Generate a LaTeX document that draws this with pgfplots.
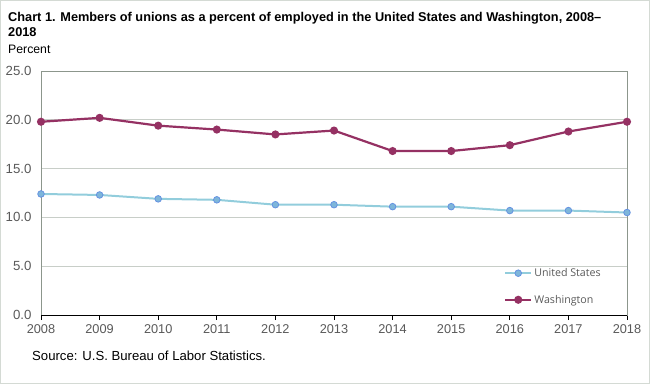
\documentclass[border=0pt]{standalone}
\usepackage{fontspec}
\setmainfont{Liberation Sans}
\newfontfamily\legfont{Open Sans}
\usepackage{pgfplots}
\pgfplotsset{compat=1.18}
\definecolor{usline}{HTML}{92CDDC}
\definecolor{usmark}{HTML}{7EB6DA}
\definecolor{wacol}{HTML}{953163}
\definecolor{gridc}{HTML}{C8CEC8}
\definecolor{axc}{HTML}{8C968C}
\definecolor{tickc}{HTML}{595959}
\definecolor{framec}{HTML}{D4DAD4}
\begin{document}
\begin{tikzpicture}[x=1bp,y=1bp]
\draw[color=framec, line width=1bp] (0.5,0.5) rectangle (649.5,383.5);
\node[anchor=base west, inner sep=0pt, font=\bfseries\fontsize{12.8}{14}\selectfont] at (8,363) {Chart 1. Members of unions as a percent of employed in the United States and Washington, 2008--};
\node[anchor=base west, inner sep=0pt, font=\bfseries\fontsize{12.8}{14}\selectfont] at (8,348) {2018};
\node[anchor=base west, inner sep=0pt, font=\fontsize{12.3}{14}\selectfont] at (8,331) {Percent};
\node[anchor=base west, inner sep=0pt, font=\fontsize{13.2}{14}\selectfont] at (32,24) {Source: U.S. Bureau of Labor Statistics.};
\begin{axis}[
  at={(41bp,69bp)}, anchor=south west,
  scale only axis, width=586bp, height=244bp,
  xmin=2008, xmax=2018, ymin=0, ymax=25,
  xtick={2008,2009,...,2018}, ytick={0,5,...,25},
  ymajorgrids, grid style={color=gridc, line width=0.8bp},
  axis line style={color=axc, line width=0.8bp},
  xtick pos=bottom, ytick style={draw=none},
  xtick style={color=black, line width=0.8bp},
  tick align=outside, major tick length=5bp,
  /pgf/number format/assume math mode=true,
  xticklabel style={/pgf/number format/1000 sep={}, color=tickc, font=\fontsize{12.8}{14}\selectfont, yshift=-1bp},
  yticklabel style={/pgf/number format/fixed, /pgf/number format/fixed zerofill, /pgf/number format/precision=1, color=tickc, font=\fontsize{13.3}{14}\selectfont, xshift=-1bp},
  legend style={at={(0.79,0.2)}, anchor=north west, draw=none, fill=none, font=\legfont\fontsize{10.7}{12}\selectfont, text=tickc, row sep=13bp, inner sep=0pt},
  legend cell align=left,
  legend image code/.code={\draw[#1] (0bp,0bp) -- (26bp,0bp); \draw[#1, only marks] plot coordinates {(13bp,0bp)};},
]
\addplot[color=usline, line width=2bp, mark=*, mark size=3.3bp, mark options={fill=usmark, draw=usmark!80!blue, line width=0.8bp}] coordinates {
(2008,12.4) (2009,12.3) (2010,11.9) (2011,11.8) (2012,11.3) (2013,11.3) (2014,11.1) (2015,11.1) (2016,10.7) (2017,10.7) (2018,10.5)};
\addlegendentry{United States}
\addplot[color=wacol, line width=2.2bp, mark=*, mark size=2.9bp, mark options={fill=wacol}] coordinates {
(2008,19.8) (2009,20.2) (2010,19.4) (2011,19.0) (2012,18.5) (2013,18.9) (2014,16.8) (2015,16.8) (2016,17.4) (2017,18.8) (2018,19.8)};
\addlegendentry{Washington}
\draw[black, line width=0.8bp] (axis cs:2008,0) -- (axis cs:2018,0);
\end{axis}
\end{tikzpicture}
\end{document}
